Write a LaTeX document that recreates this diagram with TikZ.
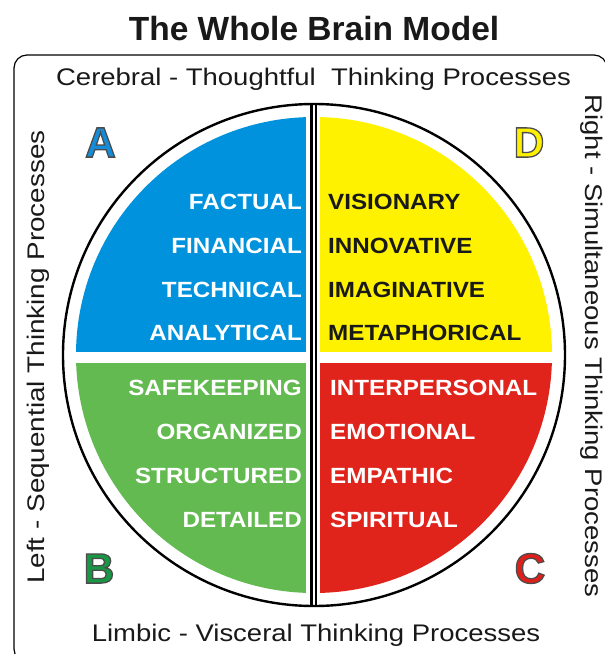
\documentclass[tikz,border=0pt]{standalone}
\usepackage{fontspec}
\setmainfont{Liberation Sans}
\newfontfamily\heavyfont[FakeBold=3]{Liberation Sans Bold}
\usetikzlibrary{calc}
\definecolor{qblue}{RGB}{0,146,220}
\definecolor{qyellow}{RGB}{255,242,0}
\definecolor{qgreen}{RGB}{98,186,80}
\definecolor{qred}{RGB}{224,36,28}
\definecolor{lblue}{RGB}{20,140,215}
\definecolor{lyellow}{RGB}{255,240,0}
\definecolor{lgreen}{RGB}{25,150,70}
\definecolor{lred}{RGB}{222,32,28}
\newcommand\qtxt[1]{\scalebox{1.1}[1]{#1}}
\newcommand\wtxt[1]{\scalebox{1.145}[1]{#1}}
\newcommand\outlined[2]{{\color{#1}\special{pdf:literal direct 0.3 0.3 0.3 RG}#2}}
\tikzset{
  qword/.style={inner sep=0pt, font=\bfseries\fontsize{22}{24}\selectfont},
  qleft/.style={qword, anchor=base east},
  qright/.style={qword, anchor=base west},
  side/.style={inner sep=0pt, font=\fontsize{24}{26}\selectfont, text=black!90},
  bigl/.style={inner sep=0pt, font=\heavyfont\fontsize{42.5}{44}\selectfont},
}
\begin{document}
\begin{tikzpicture}[x=1pt,y=-1pt]
\useasboundingbox (0,0) rectangle (605,654);
\fill[white] (0,0) rectangle (605,654);
% frame
\draw[line width=1.2pt, rounded corners=13pt] (14,55) rectangle (607,662);
% title
\node[inner sep=0pt, anchor=base, font=\bfseries\fontsize{33.5}{36}\selectfont, text=black!90] (title) at (314,40) {The Whole Brain Model};
% quadrants
\begin{scope}
\clip (314,355) circle[radius=238pt];
\fill[qblue] (60,100) rectangle (306,352);
\fill[qyellow] (320,100) rectangle (570,352);
\fill[qgreen] (60,363) rectangle (306,610);
\fill[qred] (320,363) rectangle (570,610);
\end{scope}
\draw[line width=2.4pt] (314,355) circle[radius=251pt];
\draw[line width=2.6pt] (311.3,104) -- (311.3,606);
\draw[line width=1.6pt] (316.2,104) -- (316.2,606);
% side texts
\node[side, anchor=base] (top) at (313.5,85) {\wtxt{Cerebral - Thoughtful\ \ Thinking Processes}};
\node[side, anchor=base] (bottom) at (316,641) {\wtxt{Limbic - Visceral Thinking Processes}};
\node[side, anchor=base, rotate=90] (left) at (44,357) {\scalebox{1.16}[1]{Left - Sequential Thinking Processes}};
\node[side, anchor=base, rotate=-90] (right) at (585,346) {\wtxt{Right - Simultaneous Thinking Processes}};
% quadrant words
\node[qleft, text=white] (a1) at (302,209) {\qtxt{FACTUAL}};
\node[qleft, text=white] (a2) at (302,253) {\qtxt{FINANCIAL}};
\node[qleft, text=white] (a3) at (302,297) {\qtxt{TECHNICAL}};
\node[qleft, text=white] (a4) at (302,340) {\qtxt{ANALYTICAL}};
\node[qright, text=black!90] (d1) at (328,209) {\qtxt{VISIONARY}};
\node[qright, text=black!90] (d2) at (328,253) {\qtxt{INNOVATIVE}};
\node[qright, text=black!90] (d3) at (328,297) {\qtxt{IMAGINATIVE}};
\node[qright, text=black!90] (d4) at (328,340) {\qtxt{METAPHORICAL}};
\node[qleft, text=white] (b1) at (302,395) {\qtxt{SAFEKEEPING}};
\node[qleft, text=white] (b2) at (302,439) {\qtxt{ORGANIZED}};
\node[qleft, text=white] (b3) at (302,483) {\qtxt{STRUCTURED}};
\node[qleft, text=white] (b4) at (302,527) {\qtxt{DETAILED}};
\node[qright, text=white] (c1) at (330,395) {\qtxt{INTERPERSONAL}};
\node[qright, text=white] (c2) at (330,439) {\qtxt{EMOTIONAL}};
\node[qright, text=white] (c3) at (330,483) {\qtxt{EMPATHIC}};
\node[qright, text=white] (c4) at (330,527) {\qtxt{SPIRITUAL}};
% letters
\node[bigl] (LA) at (100.5,142.5) {\outlined{lblue}{A}};
\node[bigl] (LD) at (529,142.5) {\outlined{lyellow}{D}};
\node[bigl] (LB) at (99,568.5) {\outlined{lgreen}{B}};
\node[bigl] (LC) at (530,568.5) {\outlined{lred}{C}};
\end{tikzpicture}
\end{document}
